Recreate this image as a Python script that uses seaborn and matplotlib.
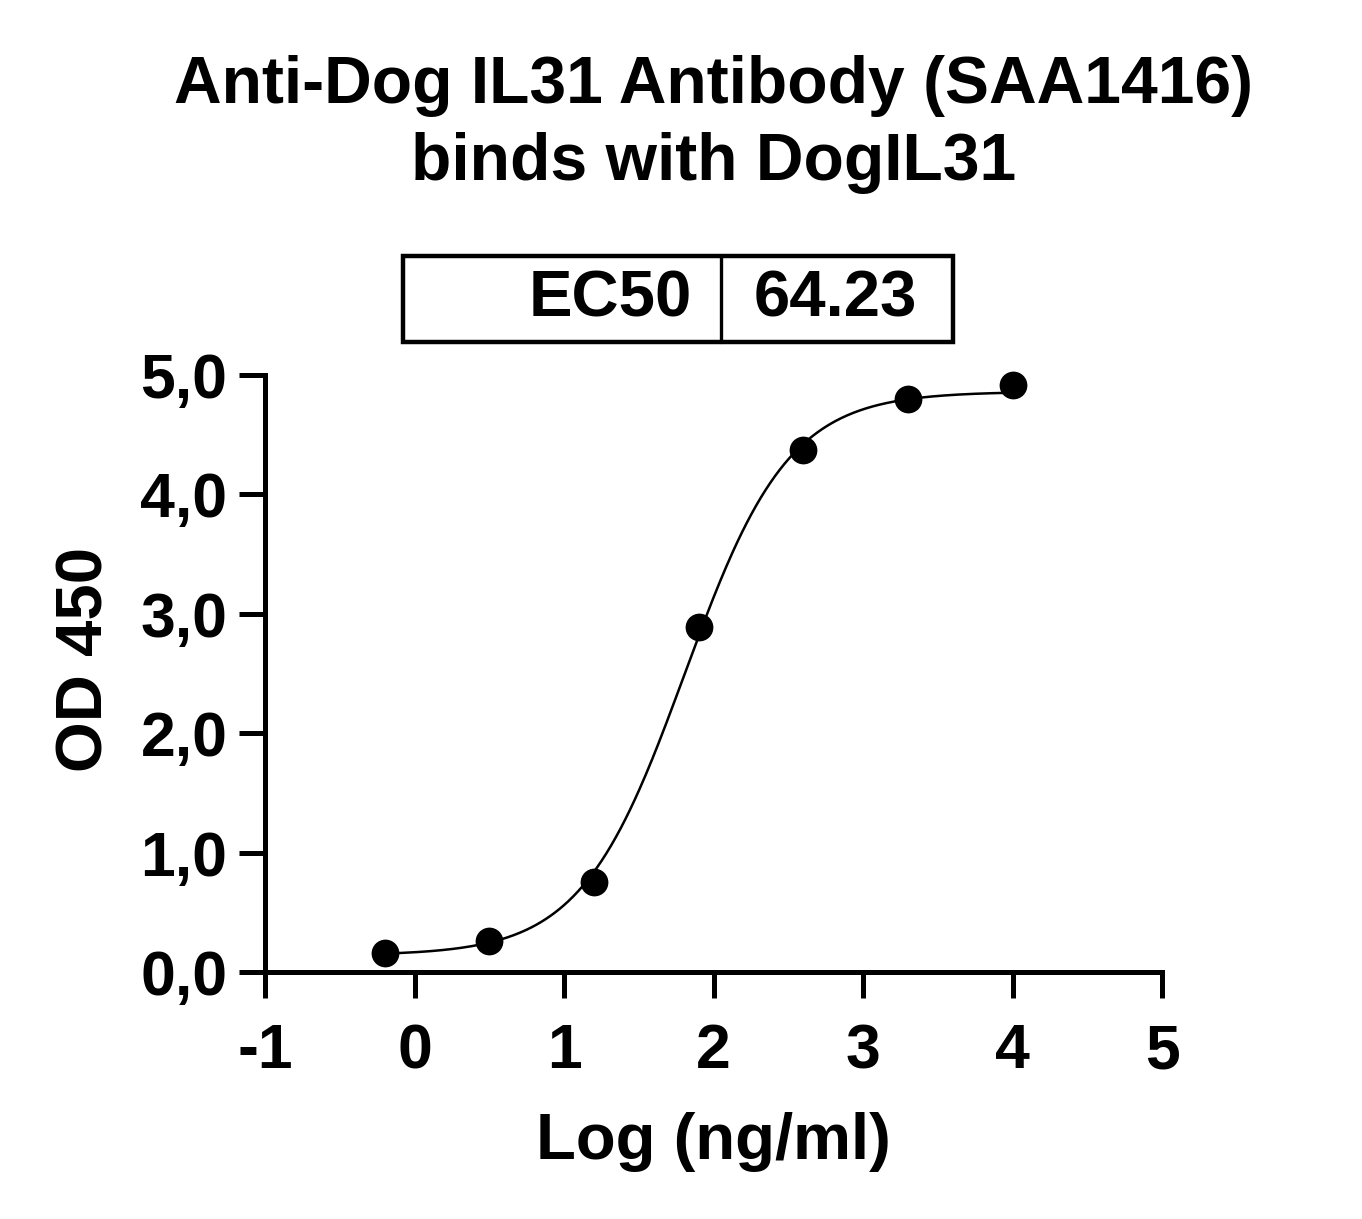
import numpy as np
import pandas as pd
import matplotlib
matplotlib.use("Agg")
import matplotlib.pyplot as plt
from matplotlib.patches import Rectangle
from matplotlib.lines import Line2D
import seaborn as sns

# --- data ---
log_conc = [-0.2, 0.5, 1.2, 1.9, 2.6, 3.3, 4.0]
od450 = [0.16, 0.26, 0.75, 2.89, 4.37, 4.80, 4.92]

# 4PL fit parameters (estimated from the drawn curve)
fit_bottom = 0.14
fit_top = 4.86
fit_hill = 1.25
ec50 = 64.23

x_ticks = [-1, 0, 1, 2, 3, 4, 5]
y_ticks = [0, 1, 2, 3, 4, 5]
y_tick_labels = ["0,0", "1,0", "2,0", "3,0", "4,0", "5,0"]

points = pd.DataFrame({"log_conc": log_conc, "od450": od450})
x_fit = np.linspace(min(log_conc), max(log_conc), 400)
y_fit = fit_bottom + (fit_top - fit_bottom) / (1 + 10 ** ((np.log10(ec50) - x_fit) * fit_hill))
curve = pd.DataFrame({"log_conc": x_fit, "od450": y_fit})

sns.set_theme(style="ticks")
plt.rcParams["font.family"] = ["Liberation Sans", "DejaVu Sans"]
plt.rcParams["font.weight"] = "bold"
for key in ["text.color", "axes.labelcolor", "xtick.color", "ytick.color", "axes.edgecolor"]:
    plt.rcParams[key] = "black"

fig = plt.figure(figsize=(13.62, 12.19), dpi=100)
ax = fig.add_axes([0.1946, 0.2026, 0.6586, 0.4898])

sns.lineplot(data=curve, x="log_conc", y="od450", ax=ax, color="black",
             linewidth=1.8, clip_on=False)
sns.scatterplot(data=points, x="log_conc", y="od450", ax=ax, color="black",
                s=400, edgecolor="black", linewidth=0, clip_on=False, zorder=5)

ax.set_xlim(-1, 5)
ax.set_ylim(0, 5)
ax.set_xticks(x_ticks)
ax.set_xticklabels([str(t) for t in x_ticks])
ax.set_yticks(y_ticks)
ax.set_yticklabels(y_tick_labels)
for s in ["top", "right"]:
    ax.spines[s].set_visible(False)
for s in ["left", "bottom"]:
    ax.spines[s].set_linewidth(3.6)
    ax.spines[s].set_color("black")
    ax.spines[s].set_capstyle("projecting")
ax.tick_params(axis="both", direction="out", length=19, width=3.6,
               color="black", labelcolor="black", labelsize=45)
ax.tick_params(axis="x", pad=17)
ax.tick_params(axis="y", pad=8)
for lab in ax.get_xticklabels() + ax.get_yticklabels():
    lab.set_fontweight("bold")

ax.set_xlabel("Log (ng/ml)", fontsize=47, fontweight="bold", labelpad=22)
ax.set_ylabel("OD 450", fontsize=47, fontweight="bold", labelpad=18)
ax.yaxis.label.set_y(0.524)

fig.text(0.524, 0.9295, "Anti-Dog IL31 Antibody (SAA1416)", ha="center", va="center",
         fontsize=47.5, fontweight="bold")
fig.text(0.524, 0.8665, "binds with DogIL31", ha="center", va="center",
         fontsize=47.5, fontweight="bold")

# EC50 table box
fig.add_artist(Rectangle((0.2959, 0.7194), 0.4038, 0.0705, transform=fig.transFigure,
                         fill=False, edgecolor="black", linewidth=3.2))
fig.add_artist(Line2D([0.5294, 0.5294], [0.7194, 0.7899], transform=fig.transFigure,
                      color="black", linewidth=2.4))
fig.text(0.508, 0.7547, "EC50", ha="right", va="center", fontsize=47, fontweight="bold")
fig.text(0.613, 0.7547, f"{ec50:.2f}", ha="center", va="center", fontsize=47, fontweight="bold")

fig.savefig("out.png", dpi=100)
